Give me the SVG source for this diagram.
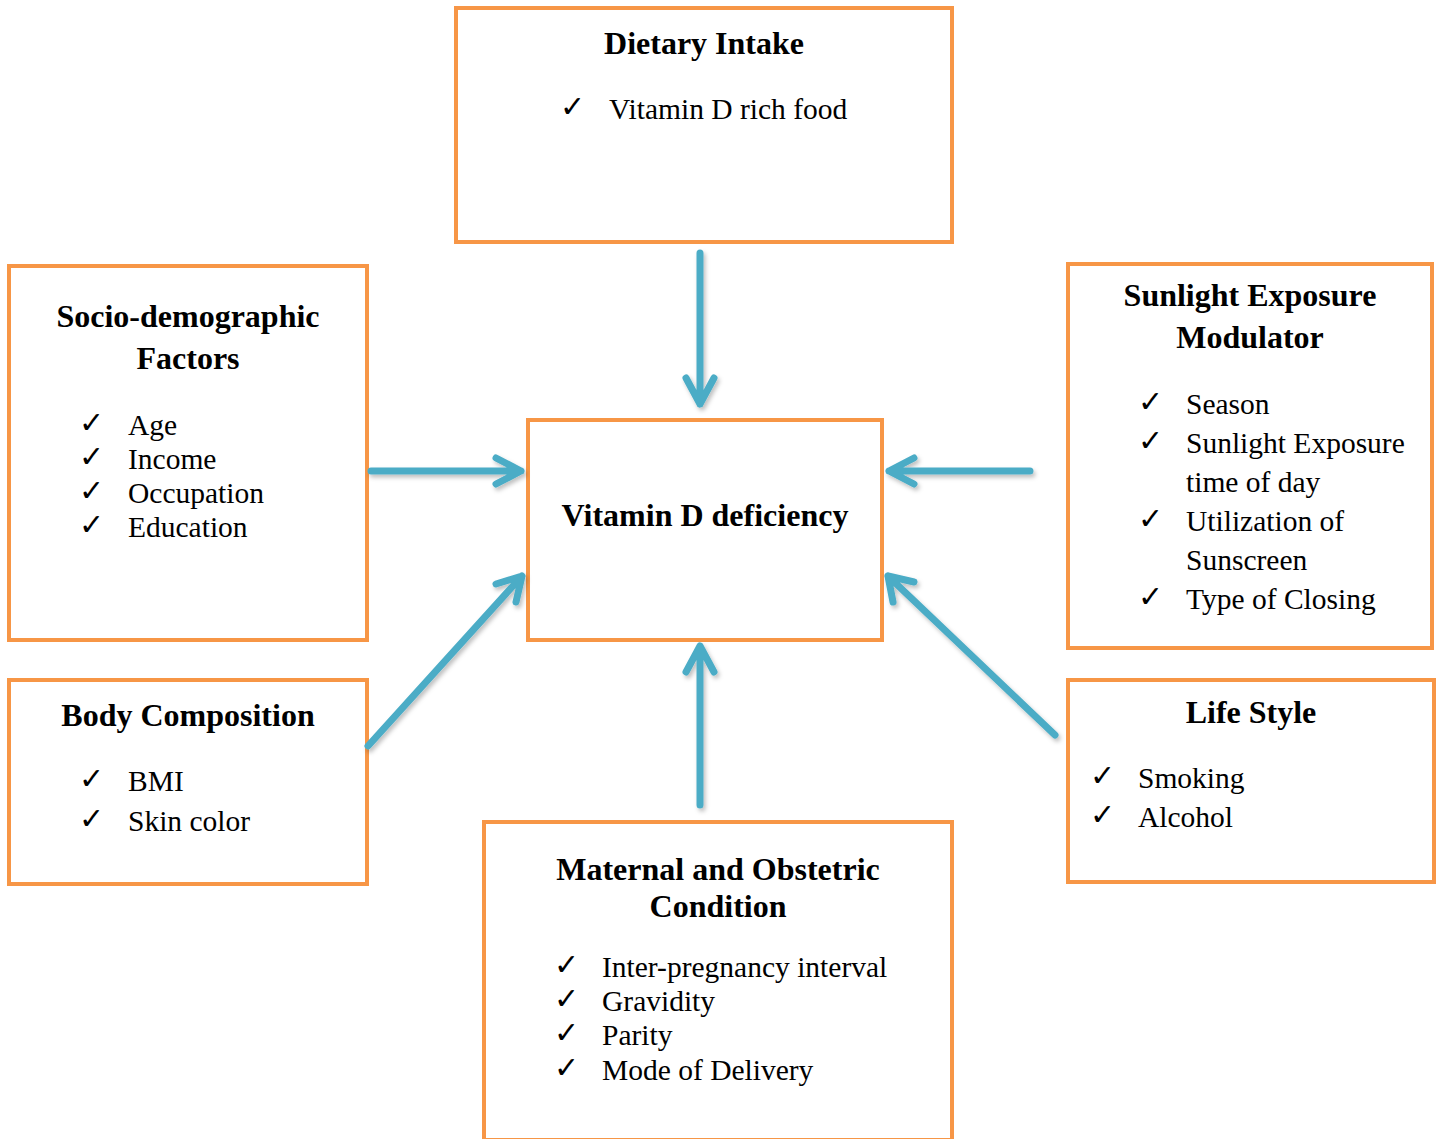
<svg xmlns="http://www.w3.org/2000/svg" width="1440" height="1139" viewBox="0 0 1440 1139">
<defs>
<style>
.box{fill:#fff;stroke:#F79646;stroke-width:4}
.t{font-family:"Liberation Serif","Times New Roman",serif;font-weight:bold;font-size:32px;fill:#000;text-anchor:middle}
.i{font-family:"Liberation Serif","Times New Roman",serif;font-size:29.5px;fill:#000}
.c{font-family:"DejaVu Sans",sans-serif;font-size:30px;fill:#000}
.a{fill:none;stroke:#4BACC6;stroke-width:7;stroke-linecap:round;stroke-linejoin:round}
</style>
<filter id="sh" x="-20%" y="-20%" width="140%" height="140%">
<feDropShadow dx="2" dy="3" stdDeviation="2" flood-color="#000" flood-opacity="0.25"/>
</filter>
</defs>
<rect width="1440" height="1139" fill="#fff"/>
<g id="dietary">
<rect class="box" x="456" y="8" width="496" height="234"/>
<text class="t" x="704" y="54">Dietary Intake</text>
<text class="c" x="560" y="117">✓</text><text class="i" x="609" y="119">Vitamin D rich food</text>
</g>
<g id="socio">
<rect class="box" x="9" y="266" width="358" height="374"/>
<text class="t" x="188" y="327">Socio-demographic</text>
<text class="t" x="188" y="369">Factors</text>
<text class="c" x="79" y="433">✓</text><text class="i" x="128" y="435">Age</text>
<text class="c" x="79" y="467">✓</text><text class="i" x="128" y="469">Income</text>
<text class="c" x="79" y="501">✓</text><text class="i" x="128" y="503">Occupation</text>
<text class="c" x="79" y="535">✓</text><text class="i" x="128" y="537">Education</text>
</g>
<g id="vitd">
<rect class="box" x="528" y="420" width="354" height="220"/>
<text class="t" x="705" y="526">Vitamin D deficiency</text>
</g>
<g id="sunlight">
<rect class="box" x="1068" y="264" width="364" height="384"/>
<text class="t" x="1250" y="306">Sunlight Exposure</text>
<text class="t" x="1250" y="348">Modulator</text>
<text class="c" x="1138" y="412">✓</text><text class="i" x="1186" y="414">Season</text>
<text class="c" x="1138" y="451">✓</text><text class="i" x="1186" y="453">Sunlight Exposure</text>
<text class="i" x="1186" y="492">time of day</text>
<text class="c" x="1138" y="529">✓</text><text class="i" x="1186" y="531">Utilization of</text>
<text class="i" x="1186" y="570">Sunscreen</text>
<text class="c" x="1138" y="607">✓</text><text class="i" x="1186" y="609">Type of Closing</text>
</g>
<g id="body">
<rect class="box" x="9" y="680" width="358" height="204"/>
<text class="t" x="188" y="726">Body Composition</text>
<text class="c" x="79" y="789">✓</text><text class="i" x="128" y="791">BMI</text>
<text class="c" x="79" y="829">✓</text><text class="i" x="128" y="831">Skin color</text>
</g>
<g id="lifestyle">
<rect class="box" x="1068" y="680" width="366" height="202"/>
<text class="t" x="1251" y="723">Life Style</text>
<text class="c" x="1090" y="786">✓</text><text class="i" x="1138" y="788">Smoking</text>
<text class="c" x="1090" y="825">✓</text><text class="i" x="1138" y="827">Alcohol</text>
</g>
<g id="maternal">
<rect class="box" x="484" y="822" width="468" height="318"/>
<text class="t" x="718" y="880">Maternal and Obstetric</text>
<text class="t" x="718" y="917">Condition</text>
<text class="c" x="554" y="975">✓</text><text class="i" x="602" y="977">Inter-pregnancy interval</text>
<text class="c" x="554" y="1009">✓</text><text class="i" x="602" y="1011">Gravidity</text>
<text class="c" x="554" y="1043">✓</text><text class="i" x="602" y="1045">Parity</text>
<text class="c" x="554" y="1078">✓</text><text class="i" x="602" y="1080">Mode of Delivery</text>
</g>
<g id="connectors" filter="url(#sh)">
<path class="a" d="M700,253 V404 M686,378 L700,404 L714,378"/>
<path class="a" d="M371,471 H521 M496,458 L521,471 L496,484"/>
<path class="a" d="M1030,471 H889 M914,458 L889,471 L914,484"/>
<path class="a" d="M368,746 L522,576 M496,584 L522,576 L516,602"/>
<path class="a" d="M1055,735 L888,576 M893,602 L888,576 L914,582"/>
<path class="a" d="M700,805 V646 M686,672 L700,646 L714,672"/>
</g>
</svg>
